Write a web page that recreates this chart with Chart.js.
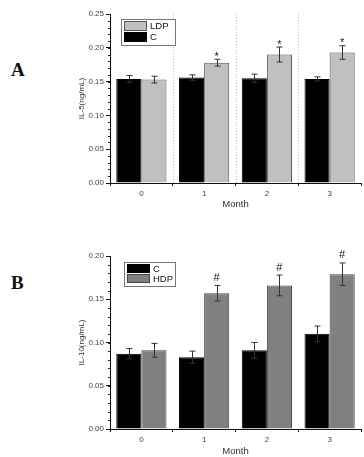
<!DOCTYPE html>
<html>
<head>
<meta charset="utf-8">
<script src="https://cdn.jsdelivr.net/npm/chart.js@4/dist/chart.umd.min.js"></script>
<style>
  body { margin: 0; background: #fff; width: 364px; height: 457px; position: relative; overflow: hidden; }
  .box { position: absolute; left: 0; width: 364px; }
  .lab { position: absolute; left: 11px; font: bold 19px "Liberation Serif", serif; color: #111; }
</style>
</head>
<body>
<div class="lab" style="top:59px">A</div>
<div class="lab" style="top:272px">B</div>
<div class="box" style="top:0;height:210px"><canvas id="chartA"></canvas></div>
<div class="box" style="top:220px;height:237px"><canvas id="chartB"></canvas></div>
<script>
var months = ["0", "1", "2", "3"];

// panel A: IL-5
var il5C = [0.154, 0.156, 0.155, 0.154];
var il5CErr = [0.005, 0.004, 0.006, 0.003];
var il5LDP = [0.153, 0.178, 0.190, 0.193];
var il5LDPErr = [0.005, 0.005, 0.011, 0.010];
var il5Marks = ["", "*", "*", "*"];

// panel B: IL-10
var il10C = [0.087, 0.083, 0.091, 0.110];
var il10CErr = [0.006, 0.007, 0.009, 0.009];
var il10HDP = [0.091, 0.157, 0.166, 0.179];
var il10HDPErr = [0.008, 0.009, 0.012, 0.013];
var il10Marks = ["", "#", "#", "#"];

var tickFont = { family: "Liberation Sans, Arial", size: 8 };

// error bars, significance marks, minor ticks, dotted separators, legend box
var extras = {
  id: "extras",
  afterDatasetsDraw: function(chart, args, opts) {
    var ctx = chart.ctx;
    var x = chart.scales.x, y = chart.scales.y;
    ctx.save();
    if (opts.dotted) {
      ctx.strokeStyle = "#bbb";
      ctx.lineWidth = 1;
      ctx.setLineDash([1, 2]);
      for (var i = 0; i < months.length - 1; i++) {
        var bx = Math.round((x.getPixelForValue(i) + x.getPixelForValue(i + 1)) / 2) + 0.5;
        ctx.beginPath();
        ctx.moveTo(bx, chart.chartArea.top);
        ctx.lineTo(bx, chart.chartArea.bottom);
        ctx.stroke();
      }
      ctx.setLineDash([]);
    }
    // error bars
    ctx.strokeStyle = "#333";
    ctx.lineWidth = 1;
    chart.data.datasets.forEach(function(ds, di) {
      var meta = chart.getDatasetMeta(di);
      meta.data.forEach(function(bar, i) {
        var v = ds.data[i], e = ds.err[i];
        var yt = y.getPixelForValue(v + e), yb = y.getPixelForValue(v - e);
        var cx = Math.round(bar.x) + 0.5;
        ctx.beginPath();
        ctx.moveTo(cx, yt); ctx.lineTo(cx, yb);
        ctx.moveTo(cx - 3, yt); ctx.lineTo(cx + 3, yt);
        ctx.moveTo(cx - 3, yb); ctx.lineTo(cx + 3, yb);
        ctx.stroke();
      });
    });
    // significance marks
    var tds = chart.data.datasets[opts.markSet];
    var tmeta = chart.getDatasetMeta(opts.markSet);
    ctx.fillStyle = "#111";
    ctx.font = "11px Liberation Sans, Arial";
    ctx.textAlign = "center";
    ctx.textBaseline = "bottom";
    opts.marks.forEach(function(m, i) {
      if (!m) return;
      var yt = y.getPixelForValue(tds.data[i] + tds.err[i]);
      ctx.fillText(m, tmeta.data[i].x, yt - 2 + (m === "*" ? 5 : 0));
    });
    // minor ticks on y axis
    ctx.strokeStyle = "#222";
    var left = chart.chartArea.left;
    for (var t = 0; t <= y.max + 1e-9; t += 0.01) {
      var py = Math.round(y.getPixelForValue(t)) + 0.5;
      ctx.beginPath();
      ctx.moveTo(left - 2, py); ctx.lineTo(left, py);
      ctx.stroke();
    }
    // legend box
    var L = opts.legend;
    ctx.fillStyle = "#fff";
    ctx.fillRect(L.x, L.y, L.w, L.h);
    ctx.strokeStyle = "#777";
    ctx.strokeRect(L.x + 0.5, L.y + 0.5, L.w, L.h);
    var rowH = (L.h - 4) / L.items.length;
    ctx.font = "9.5px Liberation Sans, Arial";
    ctx.textAlign = "left";
    ctx.textBaseline = "middle";
    L.items.forEach(function(it, k) {
      var ry = L.y + 2 + k * rowH;
      ctx.fillStyle = it.color;
      ctx.fillRect(L.x + 3, ry, 23, rowH - 1);
      ctx.strokeStyle = it.border;
      ctx.strokeRect(L.x + 3.5, ry + 0.5, 22, rowH - 2);
      ctx.fillStyle = "#111";
      ctx.fillText(it.label, L.x + 29, ry + rowH / 2);
    });
    ctx.restore();
  }
};

function makeChart(id, cfg) {
  return new Chart(document.getElementById(id), {
    type: "bar",
    data: {
      labels: months,
      datasets: cfg.datasets
    },
    options: {
      responsive: true,
      maintainAspectRatio: false,
      animation: false,
      layout: { padding: { left: 74, top: cfg.top, right: 3, bottom: 0 } },
      datasets: { bar: { categoryPercentage: 0.8, barPercentage: 1.0, borderWidth: 1 } },
      plugins: {
        legend: { display: false },
        tooltip: { enabled: false },
        extras: cfg.extras
      },
      scales: {
        x: {
          grid: { drawOnChartArea: false, drawTicks: true, tickLength: 3, color: "#111", offset: true },
          border: { color: "#111", width: 1 },
          ticks: { color: "#444", font: tickFont, padding: 3 },
          title: { display: true, text: "Month", color: "#333", font: { family: "Liberation Sans, Arial", size: 9.5 }, padding: { top: 3, bottom: 0 } },
          afterFit: function(s) { s.height = cfg.xh; }
        },
        y: {
          min: 0,
          max: cfg.max,
          grid: { drawOnChartArea: false, drawTicks: true, tickLength: 4, color: "#111" },
          border: { color: "#111", width: 1 },
          ticks: { stepSize: 0.05, color: "#444", font: tickFont, padding: 2,
            callback: function(v) { return v.toFixed(2); } },
          title: { display: true, text: cfg.ytitle, color: "#333", font: { family: "Liberation Sans, Arial", size: 8 }, padding: { top: 3, bottom: 0 } },
          afterFit: function(s) { s.width = 36; }
        }
      }
    },
    plugins: [extras]
  });
}

makeChart("chartA", {
  top: 14, xh: 27, max: 0.25, ytitle: "IL-5(ng/mL)",
  datasets: [
    { label: "C", data: il5C, err: il5CErr, backgroundColor: "#000", borderColor: "#000" },
    { label: "LDP", data: il5LDP, err: il5LDPErr, backgroundColor: "#c0c0c0", borderColor: "#555" }
  ],
  extras: {
    dotted: true, markSet: 1, marks: il5Marks,
    legend: { x: 121, y: 19, w: 54, h: 26, items: [
      { label: "LDP", color: "#c0c0c0", border: "#555" },
      { label: "C", color: "#000", border: "#000" }
    ] }
  }
});

makeChart("chartB", {
  top: 36, xh: 28, max: 0.20, ytitle: "IL-10(ng/mL)",
  datasets: [
    { label: "C", data: il10C, err: il10CErr, backgroundColor: "#000", borderColor: "#000" },
    { label: "HDP", data: il10HDP, err: il10HDPErr, backgroundColor: "#808080", borderColor: "#444" }
  ],
  extras: {
    dotted: false, markSet: 1, marks: il10Marks,
    legend: { x: 124, y: 42, w: 51, h: 24, items: [
      { label: "C", color: "#000", border: "#000" },
      { label: "HDP", color: "#808080", border: "#444" }
    ] }
  }
});
</script>
</body>
</html>
